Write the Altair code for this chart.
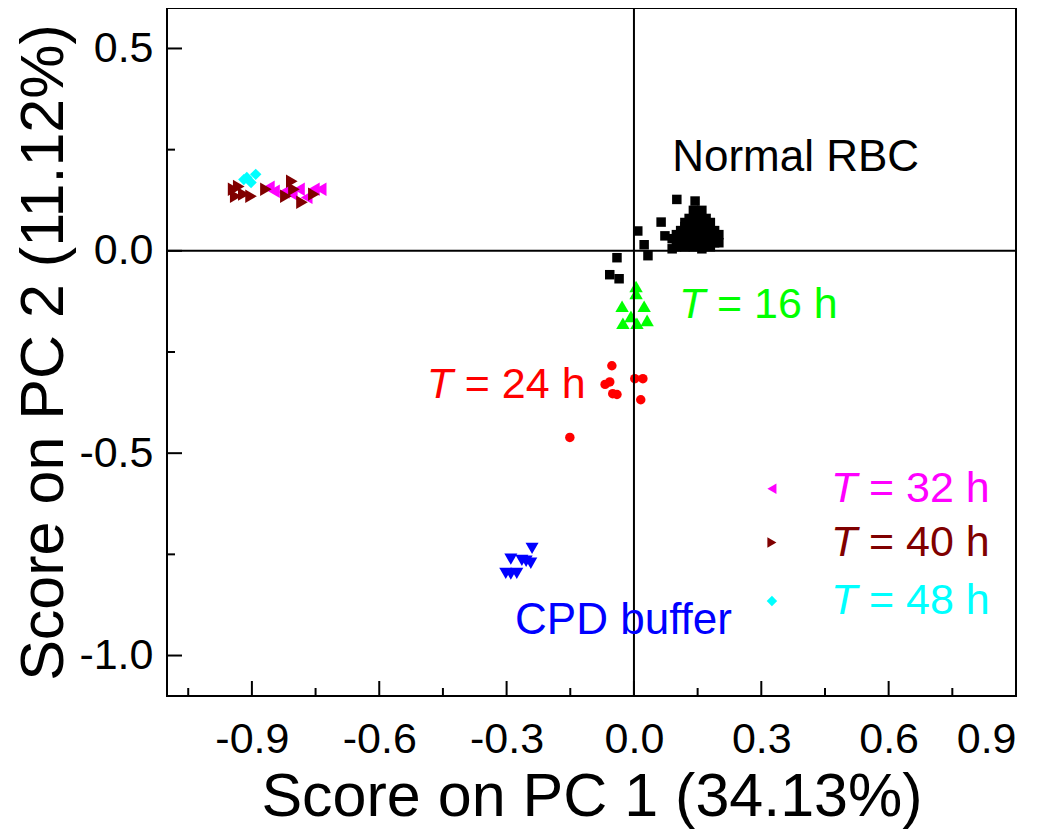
import altair as alt
import pandas as pd

# ---------------- data ----------------
normal_x = [0.101, 0.144, 0.064, 0.073, 0.009, 0.024, 0.033, -0.040, -0.057, -0.035,
            0.14, 0.15, 0.16, 0.13, 0.15, 0.17, 0.12, 0.14, 0.16, 0.18, 0.12, 0.13, 0.15, 0.17,
            0.19, 0.11, 0.10, 0.12, 0.14, 0.16, 0.18, 0.20, 0.09, 0.11, 0.13, 0.15, 0.17, 0.19,
            0.10, 0.12, 0.14, 0.16, 0.18, 0.20, 0.09, 0.15, 0.13, 0.17, 0.16, 0.14]
normal_y = [0.127, 0.123, 0.071, 0.037, 0.049, 0.015, -0.012, -0.017, -0.059, -0.069,
            0.10, 0.09, 0.10, 0.08, 0.08, 0.08, 0.07, 0.07, 0.07, 0.07, 0.06, 0.05, 0.06, 0.06,
            0.05, 0.05, 0.04, 0.04, 0.04, 0.04, 0.04, 0.04, 0.03, 0.02, 0.03, 0.02, 0.03, 0.02,
            0.01, 0.01, 0.01, 0.005, 0.01, 0.02, 0.005, 0.04, 0.06, 0.05, 0.02, 0.05]

t16_x = [0.005, 0.005, -0.028, 0.024, -0.007, -0.026, 0.031, 0.007]
t16_y = [-0.088, -0.105, -0.137, -0.137, -0.162, -0.179, -0.172, -0.179]

t24_x = [-0.052, -0.057, -0.068, -0.040, -0.050, 0.002, 0.021, 0.016, -0.151]
t24_y = [-0.284, -0.324, -0.330, -0.355, -0.353, -0.316, -0.316, -0.368, -0.461]

cpd_x = [-0.240, -0.290, -0.264, -0.243, -0.302, -0.290, -0.276, -0.254]
cpd_y = [-0.735, -0.762, -0.765, -0.772, -0.797, -0.799, -0.797, -0.767]

t32_x = [-0.860, -0.848, -0.825, -0.806, -0.789, -0.754, -0.738, -0.771]
t32_y = [0.157, 0.147, 0.145, 0.140, 0.152, 0.152, 0.152, 0.132]

t40_x = [-0.943, -0.931, -0.919, -0.902, -0.938, -0.867, -0.806, -0.801, -0.820, -0.782, -0.754]
t40_y = [0.152, 0.159, 0.140, 0.135, 0.135, 0.152, 0.172, 0.152, 0.135, 0.120, 0.140]

t48_x = [-0.912, -0.891, -0.902, -0.919]
t48_y = [0.181, 0.189, 0.169, 0.176]

groups = ["Normal RBC", "T = 16 h", "T = 24 h", "CPD buffer", "T = 32 h", "T = 40 h", "T = 48 h"]
colors = ["#000000", "#00FF00", "#FF0000", "#0000FF", "#FF00FF", "#800000", "#00FFFF"]
shapes = ["square", "triangle-up", "circle", "triangle-down", "triangle-left", "triangle-right", "diamond"]
sizes = [90, 180, 90, 170, 180, 180, 130]

x_major = [-0.9, -0.6, -0.3, 0.0, 0.3, 0.6, 0.9]
x_minor = [-1.05, -0.75, -0.45, -0.15, 0.15, 0.45, 0.75]
y_major = [-1.0, -0.5, 0.0, 0.5]
y_minor = [-0.75, -0.25, 0.25]

# annotations (data coordinates)
ann_text = ["Normal RBC", "CPD buffer"]
ann_x = [0.090, -0.280]
ann_y = [0.230, -0.914]
ann_col = ["#000000", "#0000FF"]

tlab_rest = ["= 16 h", "= 24 h", "= 32 h", "= 40 h", "= 48 h"]
tlab_x = [0.106, -0.488, 0.464, 0.464, 0.464]
tlab_y = [-0.135, -0.331, -0.588, -0.721, -0.865]
tlab_col = ["#00FF00", "#FF0000", "#FF00FF", "#800000", "#00FFFF"]

leg_x = [0.325, 0.325, 0.325]
leg_y = [-0.588, -0.721, -0.865]
leg_group = ["T = 32 h", "T = 40 h", "T = 48 h"]

W, H = 849, 688
FONT = "Liberation Sans"

# ---------------- build ----------------
series = [
    (normal_x, normal_y), (t16_x, t16_y), (t24_x, t24_y), (cpd_x, cpd_y),
    (t32_x, t32_y), (t40_x, t40_y), (t48_x, t48_y),
]
rows = []
for i, (g, (xs, ys)) in enumerate(zip(groups, series)):
    for a, b in zip(xs, ys):
        rows.append({"x": a, "y": b, "group": g, "order": i, "size": sizes[i]})
pts = pd.DataFrame(rows)

xscale = alt.Scale(domain=[-1.1, 0.9], nice=False, zero=False)
yscale = alt.Scale(domain=[-1.1, 0.6], nice=False, zero=False)
cscale = alt.Scale(domain=groups, range=colors)
sscale = alt.Scale(domain=groups, range=shapes)

lab_expr = "replace(format(datum.value, '.1f'), '\u2212', '-')"

points = alt.Chart(pts).mark_point(filled=True, opacity=1, strokeWidth=0).encode(
    x=alt.X("x:Q", scale=xscale,
            axis=alt.Axis(title="Score on PC 1 (34.13%)", values=x_major, labelExpr=lab_expr,
                          ticks=False, domain=False, grid=False, labelFont=FONT, labelFontSize=43,
                          labelColor="black", labelPadding=22, titleFont=FONT, titleFontSize=61,
                          titleFontWeight="normal", titleColor="black", titlePadding=6)),
    y=alt.Y("y:Q", scale=yscale,
            axis=alt.Axis(title="Score on PC 2 (11.12%)", values=y_major, labelExpr=lab_expr,
                          ticks=False, domain=False, grid=False, labelFont=FONT, labelFontSize=43,
                          labelColor="black", labelPadding=14, titleFont=FONT, titleFontSize=61,
                          titleFontWeight="normal", titleColor="black", titlePadding=3)),
    color=alt.Color("group:N", scale=cscale, legend=None),
    shape=alt.Shape("group:N", scale=sscale, legend=None),
    size=alt.Size("size:Q", scale=None, legend=None),
    order=alt.Order("order:Q"),
)

vline = alt.Chart(pd.DataFrame({"v": [0.0]})).mark_rule(color="black", strokeWidth=2).encode(
    x=alt.X("v:Q", scale=xscale))
hline = alt.Chart(pd.DataFrame({"v": [0.0]})).mark_rule(color="black", strokeWidth=2).encode(
    y=alt.Y("v:Q", scale=yscale))

xmaj = alt.Chart(pd.DataFrame({"v": x_major})).mark_rule(color="black", strokeWidth=2).encode(
    x=alt.X("v:Q", scale=xscale), y=alt.value(H), y2=alt.value(H - 15))
xmin = alt.Chart(pd.DataFrame({"v": x_minor})).mark_rule(color="black", strokeWidth=2).encode(
    x=alt.X("v:Q", scale=xscale), y=alt.value(H), y2=alt.value(H - 8))
ymaj = alt.Chart(pd.DataFrame({"v": y_major})).mark_rule(color="black", strokeWidth=2).encode(
    y=alt.Y("v:Q", scale=yscale), x=alt.value(0), x2=alt.value(15))
ymin = alt.Chart(pd.DataFrame({"v": y_minor})).mark_rule(color="black", strokeWidth=2).encode(
    y=alt.Y("v:Q", scale=yscale), x=alt.value(0), x2=alt.value(8))

ann = alt.Chart(pd.DataFrame({"t": ann_text, "x": ann_x, "y": ann_y, "c": ann_col})).mark_text(
    align="left", baseline="middle", font=FONT, fontSize=44).encode(
    x=alt.X("x:Q", scale=xscale), y=alt.Y("y:Q", scale=yscale),
    text="t:N", color=alt.Color("c:N", scale=None))

tdf = pd.DataFrame({"t": tlab_rest, "x": tlab_x, "y": tlab_y, "c": tlab_col})
t_italic = alt.Chart(tdf).mark_text(
    align="left", baseline="middle", font=FONT, fontSize=43, fontStyle="italic", text="T").encode(
    x=alt.X("x:Q", scale=xscale), y=alt.Y("y:Q", scale=yscale),
    color=alt.Color("c:N", scale=None))
t_rest = alt.Chart(tdf).mark_text(
    align="left", baseline="middle", font=FONT, fontSize=43, dx=38).encode(
    x=alt.X("x:Q", scale=xscale), y=alt.Y("y:Q", scale=yscale),
    text="t:N", color=alt.Color("c:N", scale=None))

legpts = alt.Chart(pd.DataFrame({"x": leg_x, "y": leg_y, "group": leg_group})).mark_point(
    filled=True, opacity=1, strokeWidth=0, size=110).encode(
    x=alt.X("x:Q", scale=xscale), y=alt.Y("y:Q", scale=yscale),
    color=alt.Color("group:N", scale=cscale, legend=None),
    shape=alt.Shape("group:N", scale=sscale, legend=None))

chart = alt.layer(
    points, vline, hline, xmaj, xmin, ymaj, ymin, ann, t_italic, t_rest, legpts
).resolve_scale(color="independent").properties(
    width=W, height=H,
    autosize=alt.AutoSizeParams(type="none"),
    padding={"left": 159, "top": 0, "right": 20, "bottom": 140},
    background="white",
).configure_view(stroke="black", strokeWidth=2)

chart.save("out.html", embed_options={"renderer": "svg", "actions": False})
